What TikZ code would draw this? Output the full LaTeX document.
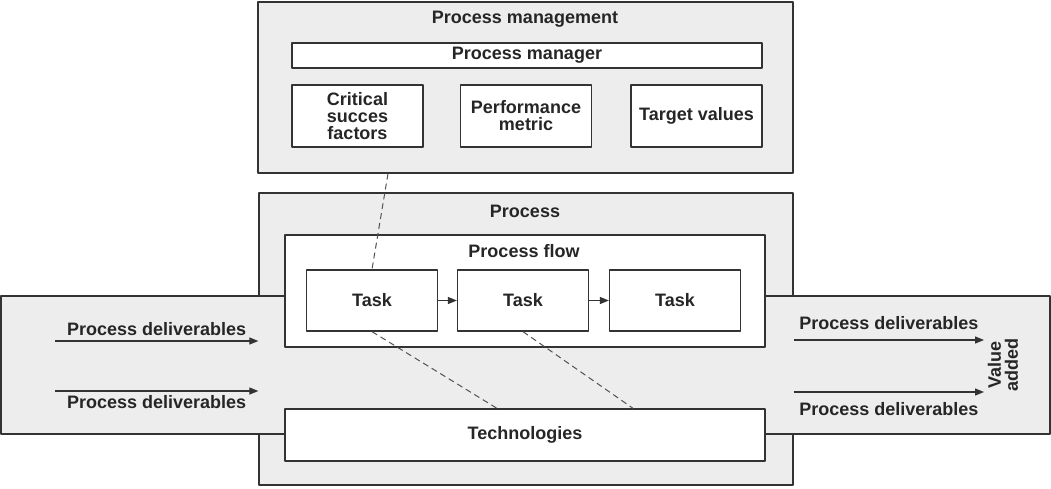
\documentclass[tikz,border=0pt]{standalone}
\usepackage{fontspec}
\setmainfont{Liberation Sans}
\usetikzlibrary{arrows.meta}
\definecolor{boxgray}{HTML}{EDEDED}
\definecolor{linec}{HTML}{333333}
\tikzset{
  box/.style={draw=linec, line width=1.3pt, fill=white, inner sep=0pt, align=center},
  panel/.style={box, fill=boxgray},
  lbl/.style={inner sep=0pt, align=center},
  flowline/.style={draw=linec, line width=1.2pt},
  link/.style={draw=linec!85, line width=1pt, dash pattern=on 6pt off 4pt},
}
\begin{document}
\begin{tikzpicture}[x=1pt, y=-1pt, >={Triangle[length=9pt,width=7pt]}, line join=round, font=\bfseries\fontsize{18}{17}\selectfont, text=black!85]
	\useasboundingbox (0,0) rectangle (1051,488);
	% process management
	\node[panel, minimum width=535pt, minimum height=171pt] (pm) at (525.5,87.5) {};
	\node[lbl] (pmtitle) at (525,19) {Process management};
	\node[box, minimum width=470pt, minimum height=25pt] (manager) at (527,55.5) {Process manager};
	\node[box, minimum width=131pt, minimum height=62pt] (csf) at (357.5,116) {Critical\\succes\\factors};
	\node[box, minimum width=131pt, minimum height=62pt] (metric) at (526,116) {Performance\\metric};
	\node[box, minimum width=131pt, minimum height=62pt] (target) at (696.5,116) {Target values};
	% process and deliverables band
	\node[panel, minimum width=534pt, minimum height=292pt] (proc) at (526,339) {};
	\node[panel, minimum width=1049pt, minimum height=138pt] (band) at (525.5,365) {};
	\node[lbl] (proctitle) at (525,211) {Process};
	\node[box, minimum width=480pt, minimum height=112pt] (flow) at (525,291) {};
	\node[lbl] (flowtitle) at (524,251) {Process flow};
	\node[box, minimum width=131pt, minimum height=61pt] (task1) at (372,300.5) {Task};
	\node[box, minimum width=131pt, minimum height=61pt] (task2) at (523,300.5) {Task};
	\node[box, minimum width=131pt, minimum height=61pt] (task3) at (675,300.5) {Task};
	\node[box, minimum width=480pt, minimum height=52pt] (tech) at (525,435) {Technologies};
	\draw[flowline,->] (task1) -- (task2);
	\draw[flowline,->] (task2) -- (task3);
	% dashed links
	\draw[link] ([xshift=-137.5pt]pm.south) -- (task1.north);
	\draw[link] (task1.south) -- ([xshift=-28pt]tech.north);
	\draw[link] (task2.south) -- ([xshift=108pt]tech.north);
	% deliverables in and out
	\coordinate (inA) at (55,341);
	\coordinate (inB) at (55,391);
	\coordinate (outA) at (984,340);
	\coordinate (outB) at (984,392);
	\draw[flowline,->] (inA) -- (inA -| proc.west) node[lbl,midway,above=5pt] {Process deliverables};
	\draw[flowline,->] (inB) -- (inB -| proc.west) node[lbl,midway,below=4pt] {Process deliverables};
	\draw[flowline,->] (outA -| proc.east) -- (outA) node[lbl,midway,above=10pt] {Process deliverables};
	\draw[flowline,->] (outB -| proc.east) -- (outB) node[lbl,midway,below=10pt] {Process deliverables};
	\node[lbl, rotate=90] (value) at (1003,365) {Value\\added};
\end{tikzpicture}
\end{document}
